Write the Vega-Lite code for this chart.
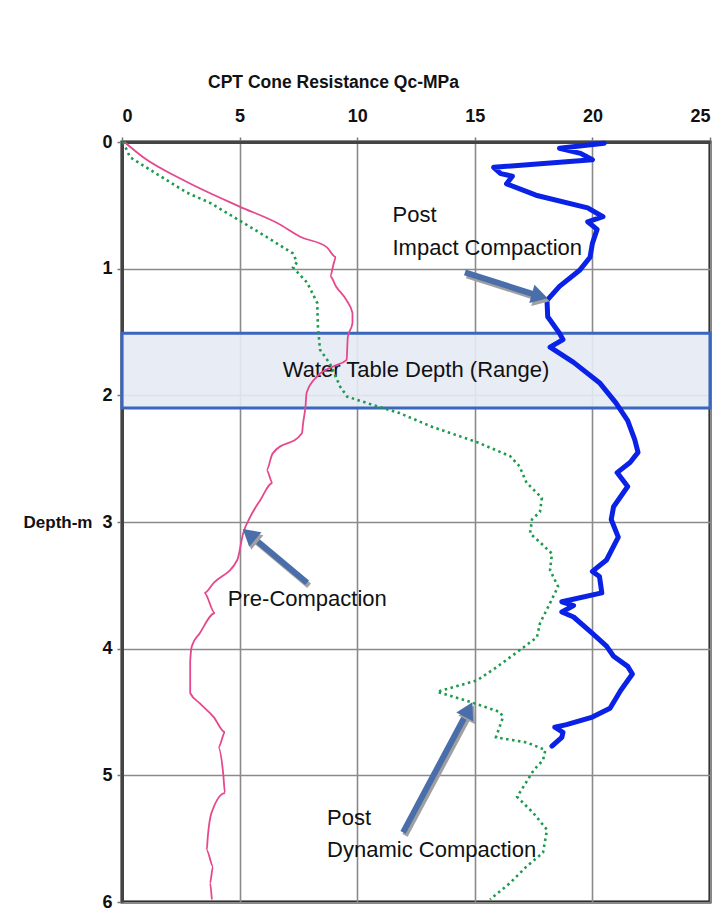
{
  "$schema": "https://vega.github.io/schema/vega-lite/v6.json",
  "autosize": {"type": "none"},
  "padding": {"left": 122, "top": 142, "right": 10, "bottom": 12},
  "width": 588,
  "height": 760,
  "background": "white",
  "datasets": {
    "curves": [
      {"series": "Pre", "x": 0.1, "d": 0},
      {"series": "Pre", "x": 0.9, "d": 0.12},
      {"series": "Pre", "x": 2.6, "d": 0.3},
      {"series": "Pre", "x": 5.0, "d": 0.51},
      {"series": "Pre", "x": 6.6, "d": 0.64},
      {"series": "Pre", "x": 7.6, "d": 0.75},
      {"series": "Pre", "x": 8.7, "d": 0.83},
      {"series": "Pre", "x": 9.1, "d": 0.91},
      {"series": "Pre", "x": 9.0, "d": 0.96},
      {"series": "Pre", "x": 8.85, "d": 1.06},
      {"series": "Pre", "x": 9.1, "d": 1.14},
      {"series": "Pre", "x": 9.55, "d": 1.25},
      {"series": "Pre", "x": 9.8, "d": 1.35},
      {"series": "Pre", "x": 9.8, "d": 1.43},
      {"series": "Pre", "x": 9.6, "d": 1.54},
      {"series": "Pre", "x": 9.55, "d": 1.72},
      {"series": "Pre", "x": 9.0, "d": 1.77},
      {"series": "Pre", "x": 8.3, "d": 1.85},
      {"series": "Pre", "x": 7.85, "d": 1.98},
      {"series": "Pre", "x": 7.8, "d": 2.09},
      {"series": "Pre", "x": 7.7, "d": 2.22},
      {"series": "Pre", "x": 7.65, "d": 2.3},
      {"series": "Pre", "x": 6.4, "d": 2.46},
      {"series": "Pre", "x": 6.15, "d": 2.59},
      {"series": "Pre", "x": 6.4, "d": 2.69},
      {"series": "Pre", "x": 5.87, "d": 2.83},
      {"series": "Pre", "x": 5.45, "d": 2.96},
      {"series": "Pre", "x": 5.15, "d": 3.09},
      {"series": "Pre", "x": 4.9, "d": 3.3},
      {"series": "Pre", "x": 3.9, "d": 3.48},
      {"series": "Pre", "x": 3.5, "d": 3.56},
      {"series": "Pre", "x": 3.95, "d": 3.72},
      {"series": "Pre", "x": 3.3, "d": 3.88},
      {"series": "Pre", "x": 2.97, "d": 3.98},
      {"series": "Pre", "x": 2.9, "d": 4.1},
      {"series": "Pre", "x": 2.9, "d": 4.35},
      {"series": "Pre", "x": 3.3, "d": 4.43},
      {"series": "Pre", "x": 3.9, "d": 4.54},
      {"series": "Pre", "x": 4.38, "d": 4.66},
      {"series": "Pre", "x": 4.1, "d": 4.78},
      {"series": "Pre", "x": 4.3, "d": 4.98},
      {"series": "Pre", "x": 4.38, "d": 5.14},
      {"series": "Pre", "x": 3.8, "d": 5.3},
      {"series": "Pre", "x": 3.65, "d": 5.48},
      {"series": "Pre", "x": 3.6, "d": 5.59},
      {"series": "Pre", "x": 3.87, "d": 5.72},
      {"series": "Pre", "x": 3.74, "d": 5.85},
      {"series": "Pre", "x": 3.82, "d": 5.98},
      {"series": "Dyn", "x": 0.05, "d": 0},
      {"series": "Dyn", "x": 0.34, "d": 0.12},
      {"series": "Dyn", "x": 1.2, "d": 0.22},
      {"series": "Dyn", "x": 2.76, "d": 0.4},
      {"series": "Dyn", "x": 3.74, "d": 0.48},
      {"series": "Dyn", "x": 5.0, "d": 0.62},
      {"series": "Dyn", "x": 6.15, "d": 0.75},
      {"series": "Dyn", "x": 7.27, "d": 0.88},
      {"series": "Dyn", "x": 7.44, "d": 0.95},
      {"series": "Dyn", "x": 7.27, "d": 0.99},
      {"series": "Dyn", "x": 7.87, "d": 1.11},
      {"series": "Dyn", "x": 8.3, "d": 1.27},
      {"series": "Dyn", "x": 8.33, "d": 1.46},
      {"series": "Dyn", "x": 8.42, "d": 1.64},
      {"series": "Dyn", "x": 8.84, "d": 1.75},
      {"series": "Dyn", "x": 9.27, "d": 1.93},
      {"series": "Dyn", "x": 9.57, "d": 2.01},
      {"series": "Dyn", "x": 10.4, "d": 2.06},
      {"series": "Dyn", "x": 11.8, "d": 2.14},
      {"series": "Dyn", "x": 13.2, "d": 2.25},
      {"series": "Dyn", "x": 15.1, "d": 2.37},
      {"series": "Dyn", "x": 16.5, "d": 2.48},
      {"series": "Dyn", "x": 16.9, "d": 2.56},
      {"series": "Dyn", "x": 17.2, "d": 2.69},
      {"series": "Dyn", "x": 17.85, "d": 2.81},
      {"series": "Dyn", "x": 17.77, "d": 2.92},
      {"series": "Dyn", "x": 17.43, "d": 2.98},
      {"series": "Dyn", "x": 17.35, "d": 3.09},
      {"series": "Dyn", "x": 17.77, "d": 3.16},
      {"series": "Dyn", "x": 18.28, "d": 3.25},
      {"series": "Dyn", "x": 18.2, "d": 3.38},
      {"series": "Dyn", "x": 18.54, "d": 3.51},
      {"series": "Dyn", "x": 18.2, "d": 3.64},
      {"series": "Dyn", "x": 17.77, "d": 3.8},
      {"series": "Dyn", "x": 17.64, "d": 3.91},
      {"series": "Dyn", "x": 16.85, "d": 4.02},
      {"series": "Dyn", "x": 15.9, "d": 4.15},
      {"series": "Dyn", "x": 15.1, "d": 4.25},
      {"series": "Dyn", "x": 13.4, "d": 4.34},
      {"series": "Dyn", "x": 14.8, "d": 4.42},
      {"series": "Dyn", "x": 16.07, "d": 4.5},
      {"series": "Dyn", "x": 16.2, "d": 4.54},
      {"series": "Dyn", "x": 15.9, "d": 4.7},
      {"series": "Dyn", "x": 17.2, "d": 4.74},
      {"series": "Dyn", "x": 18.0, "d": 4.8},
      {"series": "Dyn", "x": 17.9, "d": 4.88},
      {"series": "Dyn", "x": 17.5, "d": 4.96},
      {"series": "Dyn", "x": 16.8, "d": 5.17},
      {"series": "Dyn", "x": 17.5, "d": 5.3},
      {"series": "Dyn", "x": 18.07, "d": 5.43},
      {"series": "Dyn", "x": 17.9, "d": 5.61},
      {"series": "Dyn", "x": 17.2, "d": 5.72},
      {"series": "Dyn", "x": 16.5, "d": 5.85},
      {"series": "Dyn", "x": 15.65, "d": 5.98},
      {"series": "Imp", "x": 20.5, "d": 0.01},
      {"series": "Imp", "x": 18.6, "d": 0.05},
      {"series": "Imp", "x": 19.5, "d": 0.09},
      {"series": "Imp", "x": 20.0, "d": 0.14},
      {"series": "Imp", "x": 15.8, "d": 0.2},
      {"series": "Imp", "x": 16.1, "d": 0.25},
      {"series": "Imp", "x": 16.6, "d": 0.27},
      {"series": "Imp", "x": 16.35, "d": 0.33},
      {"series": "Imp", "x": 17.6, "d": 0.42},
      {"series": "Imp", "x": 19.8, "d": 0.52},
      {"series": "Imp", "x": 20.45, "d": 0.59},
      {"series": "Imp", "x": 19.8, "d": 0.63},
      {"series": "Imp", "x": 20.2, "d": 0.69},
      {"series": "Imp", "x": 20.0, "d": 0.8},
      {"series": "Imp", "x": 19.9, "d": 0.91},
      {"series": "Imp", "x": 19.47, "d": 1.01},
      {"series": "Imp", "x": 18.6, "d": 1.14},
      {"series": "Imp", "x": 18.07, "d": 1.25},
      {"series": "Imp", "x": 18.1, "d": 1.38},
      {"series": "Imp", "x": 18.6, "d": 1.51},
      {"series": "Imp", "x": 18.75, "d": 1.56},
      {"series": "Imp", "x": 18.2, "d": 1.62},
      {"series": "Imp", "x": 19.2, "d": 1.74},
      {"series": "Imp", "x": 20.3, "d": 1.9},
      {"series": "Imp", "x": 21.0, "d": 2.06},
      {"series": "Imp", "x": 21.5, "d": 2.2},
      {"series": "Imp", "x": 21.8, "d": 2.35},
      {"series": "Imp", "x": 21.94, "d": 2.45},
      {"series": "Imp", "x": 21.6, "d": 2.53},
      {"series": "Imp", "x": 21.05, "d": 2.61},
      {"series": "Imp", "x": 21.5, "d": 2.72},
      {"series": "Imp", "x": 20.9, "d": 2.88},
      {"series": "Imp", "x": 20.8, "d": 2.98},
      {"series": "Imp", "x": 21.1, "d": 3.12},
      {"series": "Imp", "x": 20.6, "d": 3.3},
      {"series": "Imp", "x": 20.0, "d": 3.39},
      {"series": "Imp", "x": 20.3, "d": 3.43},
      {"series": "Imp", "x": 20.4, "d": 3.56},
      {"series": "Imp", "x": 18.7, "d": 3.63},
      {"series": "Imp", "x": 19.2, "d": 3.66},
      {"series": "Imp", "x": 18.7, "d": 3.71},
      {"series": "Imp", "x": 19.2, "d": 3.75},
      {"series": "Imp", "x": 20.0, "d": 3.88},
      {"series": "Imp", "x": 20.6, "d": 3.98},
      {"series": "Imp", "x": 20.9, "d": 4.06},
      {"series": "Imp", "x": 21.5, "d": 4.14},
      {"series": "Imp", "x": 21.7, "d": 4.2},
      {"series": "Imp", "x": 21.2, "d": 4.33},
      {"series": "Imp", "x": 20.75, "d": 4.47},
      {"series": "Imp", "x": 20.0, "d": 4.54},
      {"series": "Imp", "x": 18.9, "d": 4.6},
      {"series": "Imp", "x": 18.4, "d": 4.62},
      {"series": "Imp", "x": 18.75, "d": 4.66},
      {"series": "Imp", "x": 18.7, "d": 4.7},
      {"series": "Imp", "x": 18.28, "d": 4.77}
    ],
    "arrows": [
      {"x": 14.58, "d": 1.03, "x2": 17.65, "d2": 1.21, "angle": 106},
      {"x": 7.87, "d": 3.48, "x2": 5.49, "d2": 3.11, "angle": 310},
      {"x": 11.95, "d": 5.45, "x2": 14.68, "d2": 4.5, "angle": 28}
    ],
    "labels": [
      {"text": "Post", "x": 11.5, "d": 0.58},
      {"text": "Impact Compaction", "x": 11.5, "d": 0.835},
      {"text": "Pre-Compaction", "x": 4.5, "d": 3.61},
      {"text": "Post", "x": 8.72, "d": 5.34},
      {"text": "Dynamic Compaction", "x": 8.72, "d": 5.59}
    ]
  },
  "encoding": {
    "x": {
      "type": "quantitative",
      "scale": {"domain": [0, 25], "nice": false, "zero": false},
      "axis": {
        "orient": "top",
        "title": "CPT Cone Resistance Qc-MPa",
        "values": [0, 5, 10, 15, 20, 25],
        "titleX": 211,
        "titleAlign": "center"
      }
    },
    "y": {
      "type": "quantitative",
      "scale": {"domain": [0, 6], "reverse": true, "nice": false, "zero": false},
      "axis": {
        "title": "Depth-m",
        "values": [0, 1, 2, 3, 4, 5, 6],
        "titleAngle": 0,
        "titleAlign": "right",
        "titleBaseline": "middle",
        "titleX": -30,
        "titleY": 380,
        "titleFontSize": 17
      }
    }
  },
  "layer": [
    {
      "data": {"values": [{"x": 0, "x2": 25, "d": 1.51, "d2": 2.1}]},
      "mark": {"type": "rect", "fill": "#e4eaf4", "fillOpacity": 0.9, "stroke": "#3a66bd", "strokeWidth": 3},
      "encoding": {
        "x": {"field": "x", "type": "quantitative"},
        "x2": {"field": "x2"},
        "y": {"field": "d", "type": "quantitative"},
        "y2": {"field": "d2"}
      }
    },
    {
      "data": {"values": [{"text": "Water Table Depth (Range)", "x": 12.5, "d": 1.8}]},
      "mark": {"type": "text", "font": "Liberation Sans", "fontSize": 22, "color": "#111", "align": "center", "baseline": "middle"},
      "encoding": {
        "x": {"field": "x", "type": "quantitative"},
        "y": {"field": "d", "type": "quantitative"},
        "text": {"field": "text"}
      }
    },
    {
      "data": {"name": "curves"},
      "transform": [{"filter": "datum.series === 'Pre'"}],
      "mark": {"type": "line", "color": "#e5488c", "strokeWidth": 1.8, "interpolate": "monotone"},
      "encoding": {
        "x": {"field": "x", "type": "quantitative"},
        "y": {"field": "d", "type": "quantitative"},
        "order": {"field": "d", "type": "quantitative"}
      }
    },
    {
      "data": {"name": "curves"},
      "transform": [{"filter": "datum.series === 'Dyn'"}],
      "mark": {"type": "line", "color": "#1d9a4f", "strokeWidth": 2.6, "strokeDash": [2.5, 3.5], "strokeCap": "butt"},
      "encoding": {
        "x": {"field": "x", "type": "quantitative"},
        "y": {"field": "d", "type": "quantitative"},
        "order": {"field": "d", "type": "quantitative"}
      }
    },
    {
      "data": {"name": "curves"},
      "transform": [{"filter": "datum.series === 'Imp'"}],
      "mark": {"type": "line", "color": "#0a22e6", "strokeWidth": 5, "strokeJoin": "round", "strokeCap": "round"},
      "encoding": {
        "x": {"field": "x", "type": "quantitative"},
        "y": {"field": "d", "type": "quantitative"},
        "order": {"field": "d", "type": "quantitative"}
      }
    },
    {
      "data": {"name": "arrows"},
      "mark": {"type": "rule", "color": "#a0a0a0", "strokeWidth": 6, "xOffset": 2, "x2Offset": 2, "yOffset": 3, "y2Offset": 3},
      "encoding": {
        "x": {"field": "x", "type": "quantitative"},
        "y": {"field": "d", "type": "quantitative"},
        "x2": {"field": "x2"},
        "y2": {"field": "d2"}
      }
    },
    {
      "data": {"name": "arrows"},
      "mark": {"type": "rule", "color": "#4a6ea9", "strokeWidth": 6},
      "encoding": {
        "x": {"field": "x", "type": "quantitative"},
        "y": {"field": "d", "type": "quantitative"},
        "x2": {"field": "x2"},
        "y2": {"field": "d2"}
      }
    },
    {
      "data": {"name": "arrows"},
      "mark": {"type": "point", "shape": "triangle", "filled": true, "color": "#a0a0a0", "size": 360, "opacity": 1, "xOffset": 2, "yOffset": 3},
      "encoding": {
        "x": {"field": "x2", "type": "quantitative"},
        "y": {"field": "d2", "type": "quantitative"},
        "angle": {"field": "angle", "type": "quantitative", "scale": null}
      }
    },
    {
      "data": {"name": "arrows"},
      "mark": {"type": "point", "shape": "triangle", "filled": true, "color": "#4a6ea9", "size": 360, "opacity": 1},
      "encoding": {
        "x": {"field": "x2", "type": "quantitative"},
        "y": {"field": "d2", "type": "quantitative"},
        "angle": {"field": "angle", "type": "quantitative", "scale": null}
      }
    },
    {
      "data": {"name": "labels"},
      "mark": {"type": "text", "font": "Liberation Sans", "fontSize": 22, "color": "#111", "align": "left", "baseline": "middle"},
      "encoding": {
        "x": {"field": "x", "type": "quantitative"},
        "y": {"field": "d", "type": "quantitative"},
        "text": {"field": "text"}
      }
    },
    {
      "mark": {"type": "rule", "color": "#000", "strokeWidth": 6},
      "encoding": {"y": {"datum": 6}}
    }
  ],
  "config": {
    "view": {"stroke": "#111", "strokeWidth": 3},
    "axis": {
      "labelFont": "Liberation Sans",
      "labelFontWeight": "bold",
      "labelFontSize": 18,
      "labelColor": "#111",
      "titleFont": "Liberation Sans",
      "titleFontWeight": "bold",
      "titleColor": "#111",
      "grid": true,
      "gridColor": "#8a8a8a",
      "gridWidth": 1.6,
      "gridOpacity": 1,
      "domainColor": "#444",
      "domainWidth": 3,
      "tickColor": "#777",
      "tickSize": 5,
      "tickWidth": 1.5
    },
    "axisX": {"labelPadding": 12, "titleFontSize": 17.5, "titlePadding": 16},
    "axisY": {"labelPadding": 5}
  }
}
